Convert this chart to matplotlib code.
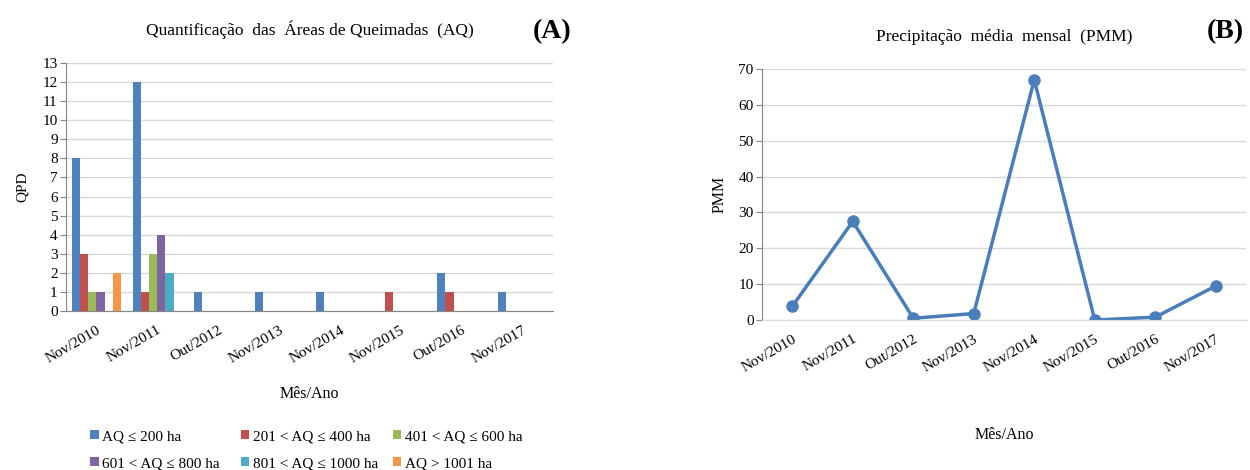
import matplotlib
matplotlib.use('Agg')
import matplotlib.pyplot as plt
import numpy as np
from matplotlib.patches import Patch

plt.rcParams['font.family'] = ['Liberation Serif', 'DejaVu Serif']

# data
meses = ['Nov/2010', 'Nov/2011', 'Out/2012', 'Nov/2013',
         'Nov/2014', 'Nov/2015', 'Out/2016', 'Nov/2017']
classes = ['AQ ≤ 200 ha', '201 < AQ ≤ 400 ha', '401 < AQ ≤ 600 ha',
           '601 < AQ ≤ 800 ha', '801 < AQ ≤ 1000 ha', 'AQ > 1001 ha']
aq_200 = [8, 12, 1, 1, 1, 0, 2, 1]
aq_400 = [3, 1, 0, 0, 0, 1, 1, 0]
aq_600 = [1, 3, 0, 0, 0, 0, 0, 0]
aq_800 = [1, 4, 0, 0, 0, 0, 0, 0]
aq_1000 = [0, 2, 0, 0, 0, 0, 0, 0]
aq_1001 = [2, 0, 0, 0, 0, 0, 0, 0]
pmm = [3.8, 27.5, 0.5, 1.8, 67.0, 0.0, 0.8, 9.5]

cores = ['#4F81BD', '#C0504D', '#9BBB59', '#8064A2', '#4BACC6', '#F79646']
series = [aq_200, aq_400, aq_600, aq_800, aq_1000, aq_1001]

fig = plt.figure(figsize=(12.5, 4.7), dpi=100)

grid_c = '#D9D9D9'
axis_c = '#868686'
tick_fs = 11


def estilo(ax):
    ax.set_axisbelow(True)
    ax.yaxis.grid(True, color=grid_c, linewidth=1)
    ax.spines['top'].set_visible(False)
    ax.spines['right'].set_visible(False)
    ax.spines['left'].set_color(axis_c)
    ax.spines['bottom'].set_color(axis_c)
    ax.tick_params(axis='y', length=4, color=axis_c, labelsize=tick_fs, pad=2)
    ax.tick_params(axis='x', length=0, labelsize=tick_fs, pad=9)


# (A) barras
ax1 = fig.add_axes([0.0528, 0.3383, 0.3896, 0.5277])
x = np.arange(len(meses))
w = 1 / 7.5
for i, (s, c, lab) in enumerate(zip(series, cores, classes)):
    ax1.bar(x + (i - 2.5) * w, s, width=w, color=c, label=lab)
ax1.set_xlim(-0.5, len(meses) - 0.5)
ax1.set_ylim(0, 13)
ax1.set_yticks(range(0, 14))
ax1.set_xticks(x)
ax1.set_xticklabels(meses, rotation=30, ha='right', rotation_mode='anchor')
estilo(ax1)
ax1.set_ylabel('QPD', fontsize=11, labelpad=10)
ax1.set_xlabel('Mês/Ano', fontsize=11.5, labelpad=15)
ax1.set_title('Quantificação  das  Áreas de Queimadas  (AQ)', fontsize=12.5, pad=20)
fig.text(0.442, 0.932, '(A)', fontsize=20, fontweight='bold', ha='center', va='center')

# legenda: uma coluna por vez, posicionada a mao
colunas = [[0, 3], [1, 4], [2, 5]]
col_x = [0.0722, 0.1927, 0.3142]
for cols, cx in zip(colunas, col_x):
    hs = [Patch(facecolor=cores[k]) for k in cols]
    ls = [classes[k] for k in cols]
    fig.legend(hs, ls, loc='upper left', bbox_to_anchor=(cx, 0.0846),
               frameon=False, fontsize=11, handlelength=0.55, handleheight=0.55,
               handletextpad=0.25, labelspacing=0.9, borderpad=0,
               borderaxespad=0)

# (B) linha
ax2 = fig.add_axes([0.6096, 0.3191, 0.3872, 0.534])
ax2.plot(x, pmm, color='#4A7EBB', linewidth=2.5, marker='o', markersize=8)
ax2.set_xlim(-0.5, len(meses) - 0.5)
ax2.set_ylim(0, 70)
ax2.set_yticks(range(0, 71, 10))
ax2.set_xticks(x)
ax2.set_xticklabels(meses, rotation=30, ha='right', rotation_mode='anchor')
estilo(ax2)
ax2.spines['bottom'].set_color(grid_c)
ax2.set_ylabel('PMM', fontsize=11.5, labelpad=8)
ax2.set_xlabel('Mês/Ano', fontsize=11.5, labelpad=38)
ax2.set_title('Precipitação  média  mensal  (PMM)', fontsize=12.5, pad=20)
fig.text(0.98, 0.932, '(B)', fontsize=20, fontweight='bold', ha='center', va='center')

fig.savefig('out.png', dpi=100)
